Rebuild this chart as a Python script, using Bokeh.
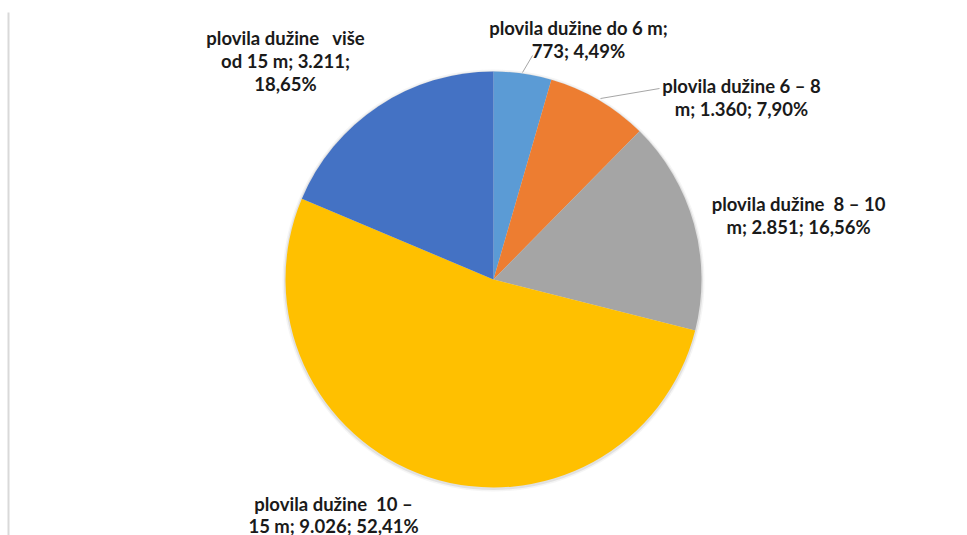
import math
from bokeh.plotting import figure
from bokeh.models import ColumnDataSource
from bokeh.core.properties import value
from bokeh.embed import file_html
from bokeh.resources import INLINE

# ---- data ----
categories = [
    "plovila dužine do 6 m",
    "plovila dužine 6 – 8\nm",
    "plovila dužine \u00a08 – 10\nm",
    "plovila dužine \u00a010 –\n15 m",
    "plovila dužine \u00a0\u00a0više\nod 15 m",
]
counts = [773, 1360, 2851, 9026, 3211]
colors = ["#5B9BD5", "#ED7D31", "#A5A5A5", "#FFC000", "#4472C4"]
sep_value = [";\n", "; ", "; ", "; ", "; "]
sep_pct = ["; ", "; ", "; ", "; ", ";\n"]
# label anchor positions (pixels from the top-left of the figure)
label_x = [578, 741, 798, 333, 285]
label_y = [27, 85, 203, 503, 37]
line_gap = [23, 23, 23, 22, 23]

W, H = 967, 535
CX, CY, R = 493, 279, 208

total = sum(counts)

def fmt_int(v):
    return f"{v:,}".replace(",", ".")

def fmt_pct(v):
    return f"{v * 100:.2f}".replace(".", ",") + "%"

p = figure(width=W, height=H, x_range=(0, W), y_range=(H, 0),
           output_backend="svg", toolbar_location=None,
           min_border=0, outline_line_color=None)
p.axis.visible = False
p.grid.visible = False
p.background_fill_color = "white"
p.border_fill_color = "white"

# thin frame line at left
p.segment(x0=[8], y0=[12], x1=[8], y1=[H], line_color="#d9d9d9", line_width=2)

# soft shadow around the pie
p.circle(x=[CX], y=[CY + 1], radius=R + 3, fill_color="#bfbfbf",
         fill_alpha=0.15, line_color=None)
p.circle(x=[CX], y=[CY + 1], radius=R + 1.5, fill_color="#a6a6a6",
         fill_alpha=0.25, line_color=None)

# wedges: start at top (pi/2), going clockwise
starts, ends = [], []
cum = 0.0
for c in counts:
    a0 = cum / total * 2 * math.pi
    cum += c
    a1 = cum / total * 2 * math.pi
    starts.append(math.pi / 2 - a1)
    ends.append(math.pi / 2 - a0)

src = ColumnDataSource(dict(start=starts, end=ends, color=colors))
p.wedge(x=CX, y=CY, radius=R, start_angle="start", end_angle="end",
        fill_color="color", line_color=None, source=src)

# leader lines
p.line(x=[532, 522], y=[55, 72], line_color="#a6a6a6", line_width=1)
p.line(x=[659, 600], y=[88, 98], line_color="#a6a6a6", line_width=1)

# labels
xs, ys, texts = [], [], []
for i, cat in enumerate(categories):
    lab = cat + sep_value[i] + fmt_int(counts[i]) + sep_pct[i] + fmt_pct(counts[i] / total)
    for j, line in enumerate(lab.split("\n")):
        xs.append(label_x[i])
        ys.append(label_y[i] + j * line_gap[i])
        texts.append(line)

p.text(x=xs, y=ys, text=texts, text_align="center", text_baseline="middle",
       text_font=value("Lato"), text_font_style="bold", text_font_size="18.5px",
       text_color="#1a1a1a")

open("out.html", "w").write(file_html(p, INLINE))
